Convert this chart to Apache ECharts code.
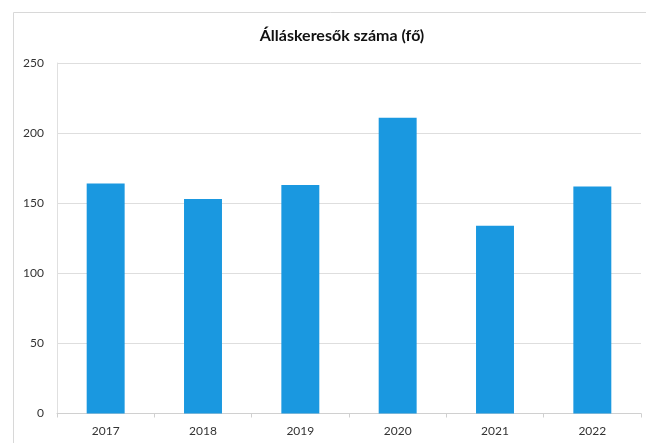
<!DOCTYPE html>
<html>
<head>
<meta charset="utf-8">
<script src="https://cdn.jsdelivr.net/npm/echarts@6/dist/echarts.min.js"></script>
<style>
html,body{margin:0;padding:0;background:#fff;}
#c{width:646px;height:443px;}
</style>
</head>
<body>
<div id="c"></div>
<script>
const titleText = 'Álláskeresők száma (fő)';
const categories = ['2017', '2018', '2019', '2020', '2021', '2022'];
const values = [164, 153, 163, 211, 134, 162];
const yTicks = { min: 0, max: 250, interval: 50 };

const chart = echarts.init(document.getElementById('c'), null, { renderer: 'canvas' });
chart.setOption({
  backgroundColor: '#fff',
  animation: false,
  title: {
    text: titleText,
    left: 337,
    top: 23,
    textAlign: 'center',
    textStyle: { fontFamily: 'Lato', fontSize: 16, fontWeight: 'bold', color: '#111' }
  },
  graphic: [{
    type: 'rect',
    shape: { x: 13.5, y: 12.5, width: 640, height: 440 },
    style: { fill: 'none', stroke: '#d8d8d8', lineWidth: 1 },
    silent: true
  }],
  grid: { left: 57, right: 5, top: 63, bottom: 29.5 },
  xAxis: {
    type: 'category',
    data: categories,
    axisLine: { lineStyle: { color: '#d0d0d0' } },
    axisTick: { show: true, alignWithLabel: false, length: 4, lineStyle: { color: '#d0d0d0' } },
    axisLabel: { fontFamily: 'Lato', fontSize: 12, color: '#333', margin: 12 }
  },
  yAxis: {
    type: 'value',
    min: yTicks.min,
    max: yTicks.max,
    interval: yTicks.interval,
    axisLine: { show: true, lineStyle: { color: '#e0e0e0' } },
    axisTick: { show: false },
    splitLine: { lineStyle: { color: '#dedede' } },
    axisLabel: { fontFamily: 'Lato', fontSize: 12, color: '#333', margin: 13 }
  },
  series: [{
    type: 'bar',
    data: values,
    barWidth: '39%',
    itemStyle: { color: '#1a98e0' }
  }]
});
</script>
</body>
</html>
